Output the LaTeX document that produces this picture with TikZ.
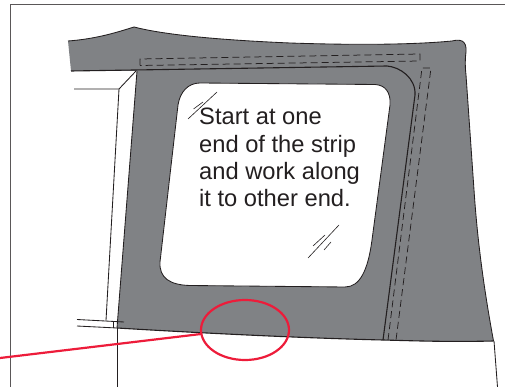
\documentclass[tikz,border=0pt]{standalone}
\usepackage{fontspec}
\setmainfont{Liberation Sans}
\definecolor{panel}{HTML}{808285}
\definecolor{ink}{HTML}{231F20}
\definecolor{mark}{HTML}{ED1C3A}
\tikzset{
  thin line/.style={draw=ink,line width=0.85pt},
  frame line/.style={draw=ink!75,line width=1.3pt},
  stitch/.style={draw=ink,line width=0.75pt,dash pattern=on 7pt off 4pt},
  glass/.style={draw=ink,line width=0.6pt},
  redline/.style={draw=mark,line width=2.2pt}
}
\begin{document}
\begin{tikzpicture}[x=1pt,y=-1pt]
\useasboundingbox (0,0) rectangle (505,387);
% frame
\draw[frame line] (10.5,387) -- (10.5,4.5) -- (505,4.5);
% panel
\fill[panel] (68,41) .. controls (95,39) and (115,33) .. (134,27)
  .. controls (165,35) and (220,40) .. (290,43)
  .. controls (350,45) and (410,45) .. (452,41)
  .. controls (460,39) and (467,40) .. (466,52)
  .. controls (465,60) and (465,66) .. (466,75)
  -- (474,190) .. controls (478,250) and (486,300) .. (493.5,341)
  .. controls (450,342) and (420,341) .. (383,340)
  .. controls (300,338) and (200,333) .. (117,328)
  -- (137,71) -- (71,71) -- cycle;
\draw[thin line] (68,41) .. controls (95,39) and (115,33) .. (134,27)
  .. controls (165,35) and (220,40) .. (290,43)
  .. controls (350,45) and (410,45) .. (452,41)
  .. controls (460,39) and (467,40) .. (466,52)
  .. controls (465,60) and (465,66) .. (466,75)
  -- (474,190) .. controls (478,250) and (486,300) .. (493.5,341);
% window
\fill[white,draw=ink,line width=0.85pt] (200,83) -- (375,84.5)
  .. controls (385,85) and (391,92) .. (390,105)
  -- (372,240) .. controls (368,270) and (360,287) .. (345,287)
  -- (190,285.5) .. controls (170,285) and (159,278) .. (160,262)
  -- (178,105) .. controls (180,92) and (188,83) .. (200,83) -- cycle;
% seam and edges
\draw[draw=ink,line width=1.1pt] (71,71) -- (387,66)
  .. controls (400,67) and (416,78) .. (415,95) -- (383,340);
\draw[draw=ink,line width=1.1pt] (493.5,341) .. controls (450,342) and (420,341) .. (383,340)
  .. controls (300,338) and (200,333) .. (117,328);
\draw[thin line] (117,328) -- (137,71);
% stitching
\draw[stitch] (140,65.5) -- (140,59) -- (420,54) -- (420,61) -- cycle;
\draw[stitch] (388,340) -- (422,68) -- (431,68) -- (396,340);
% left frame pieces
\draw[thin line] (74,89) -- (119,89) -- (136,71);
\draw[thin line] (119,89) -- (106,320.5);
\draw[thin line] (77,319.5) -- (124,322);
\draw[thin line] (77,326) -- (117,328);
\draw[thin line] (113,322) -- (113,328);
\draw[thin line] (117,328) -- (117,387);
\draw[thin line] (494,341) -- (497.5,387);
% glass marks
\draw[glass] (188,119) -- (217,92) (193.5,109) -- (203,102);
\draw[glass] (308,258) -- (339,225) (313,246) -- (325,235) (324,250) -- (331,242);
% text
\node[anchor=north west,inner sep=0pt,align=left,text=ink,font=\fontsize{23.7}{27.4}\selectfont] (note) at (199,108) {Start at one\\end of the strip\\and work along\\it to other end.};
% red callout
\draw[redline] (245,330) ellipse [x radius=44,y radius=30];
\coordinate (tail) at (0,358);
\coordinate (hit) at (201,334);
\draw[redline] (tail) -- (hit);
\end{tikzpicture}
\end{document}
